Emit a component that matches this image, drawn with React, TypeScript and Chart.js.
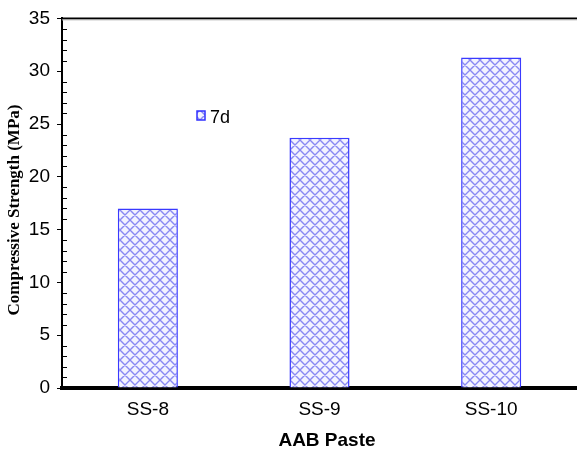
import React, { useEffect, useRef } from "react";
import { Chart, registerables } from "chart.js";

Chart.register(...registerables);

const categories = ["SS-8", "SS-9", "SS-10"];
const seriesLabel = "7d";
const values7d = [17.0, 23.7, 31.3];
const yTicks = [0, 5, 10, 15, 20, 25, 30, 35];
const xTitle = "AAB Paste";
const yTitle = "Compressive Strength (MPa)";

const SANS = "'Liberation Sans', Arial, sans-serif";
const SERIF = "'Liberation Serif', 'Times New Roman', serif";

function makePattern(): CanvasPattern | string {
  const c = document.createElement("canvas");
  c.width = 10;
  c.height = 10;
  const ctx = c.getContext("2d");
  if (!ctx) return "#e8e8ff";
  ctx.fillStyle = "#f4f4ff";
  ctx.fillRect(0, 0, 10, 10);
  ctx.strokeStyle = "#8a8af2";
  ctx.lineWidth = 1.4;
  ctx.beginPath();
  ctx.moveTo(-1, -1);
  ctx.lineTo(11, 11);
  ctx.moveTo(-1, 9);
  ctx.lineTo(1, 11);
  ctx.moveTo(9, -1);
  ctx.lineTo(11, 1);
  ctx.moveTo(11, -1);
  ctx.lineTo(-1, 11);
  ctx.moveTo(1, -1);
  ctx.lineTo(-1, 1);
  ctx.moveTo(11, 9);
  ctx.lineTo(9, 11);
  ctx.stroke();
  const p = ctx.createPattern(c, "repeat");
  return p || "#e8e8ff";
}

export default function App() {
  const ref = useRef<HTMLCanvasElement | null>(null);
  useEffect(() => {
    if (!ref.current) return;
    const pattern = makePattern();
    const decor = {
      id: "decor",
      afterDraw(chart: any) {
        const ctx = chart.ctx;
        const ca = chart.chartArea;
        const y = chart.scales.y;
        ctx.save();
        // top frame line
        ctx.strokeStyle = "#000";
        ctx.lineWidth = 2;
        ctx.beginPath();
        ctx.moveTo(ca.left - 1, ca.top);
        ctx.lineTo(chart.width, ca.top);
        ctx.stroke();
        ctx.strokeStyle = "#bbb";
        ctx.lineWidth = 1;
        ctx.beginPath();
        ctx.moveTo(ca.left, ca.top + 1.5);
        ctx.lineTo(chart.width, ca.top + 1.5);
        ctx.stroke();
        // minor ticks
        ctx.strokeStyle = "#000";
        ctx.lineWidth = 1;
        for (let v = 0; v <= 35; v++) {
          if (v % 5 === 0) continue;
          const py = Math.round(y.getPixelForValue(v)) + 0.5;
          ctx.beginPath();
          ctx.moveTo(ca.left, py);
          ctx.lineTo(ca.left + 5, py);
          ctx.stroke();
        }
        // legend
        const lx = 197;
        const ly = 111;
        ctx.fillStyle = pattern as any;
        ctx.fillRect(lx, ly, 8, 9);
        ctx.strokeStyle = "#3030ff";
        ctx.lineWidth = 1.5;
        ctx.strokeRect(lx, ly, 8, 9);
        ctx.fillStyle = "#000";
        ctx.font = "18px " + SANS;
        ctx.textBaseline = "alphabetic";
        ctx.textAlign = "left";
        ctx.fillText(chart.data.datasets[0].label, lx + 13, ly + 12);
        // axis titles
        ctx.font = "bold 19px " + SANS;
        ctx.textAlign = "center";
        ctx.fillText(xTitle, 327, 446);
        ctx.translate(19, 210);
        ctx.rotate(-Math.PI / 2);
        ctx.font = "bold 17px " + SERIF;
        ctx.textAlign = "center";
        ctx.textBaseline = "alphabetic";
        ctx.fillText(yTitle, 0, 0);
        ctx.restore();
      },
    };
    const chart = new Chart(ref.current, {
      type: "bar",
      data: {
        labels: categories,
        datasets: [
          {
            label: seriesLabel,
            data: values7d,
            backgroundColor: pattern as any,
            borderColor: "#3a3aff",
            borderWidth: 1.5,
            categoryPercentage: 1,
            barPercentage: 0.35,
          },
        ],
      },
      options: {
        responsive: false,
        animation: false,
        layout: { padding: { top: 17, right: 0, left: 0, bottom: 0 } },
        plugins: {
          legend: { display: false },
          tooltip: { enabled: false },
        },
        scales: {
          x: {
            grid: { display: false, drawTicks: false },
            border: { color: "#000", width: 4 },
            ticks: {
              color: "#000",
              font: { family: SANS, size: 19 },
              padding: 10,
            },
            afterFit(s: any) {
              s.height = 63;
            },
          },
          y: {
            min: 0,
            max: 35,
            afterBuildTicks(s: any) {
              s.ticks = yTicks.map((v) => ({ value: v }));
            },
            grid: {
              display: true,
              drawOnChartArea: false,
              drawTicks: true,
              tickLength: 5,
              color: "#000",
              lineWidth: 1,
            },
            border: { color: "#000", width: 2 },
            ticks: {
              color: "#000",
              font: { family: SANS, size: 19 },
              padding: 7,
            },
            afterFit(s: any) {
              s.width = 62;
            },
          },
        },
      },
      plugins: [decor],
    });
    return () => chart.destroy();
  }, []);
  return (
    <div style={{ position: "absolute", left: 0, top: 0, width: 577, height: 451, background: "#fff" }}>
      <canvas ref={ref} width={577} height={451} />
    </div>
  );
}
